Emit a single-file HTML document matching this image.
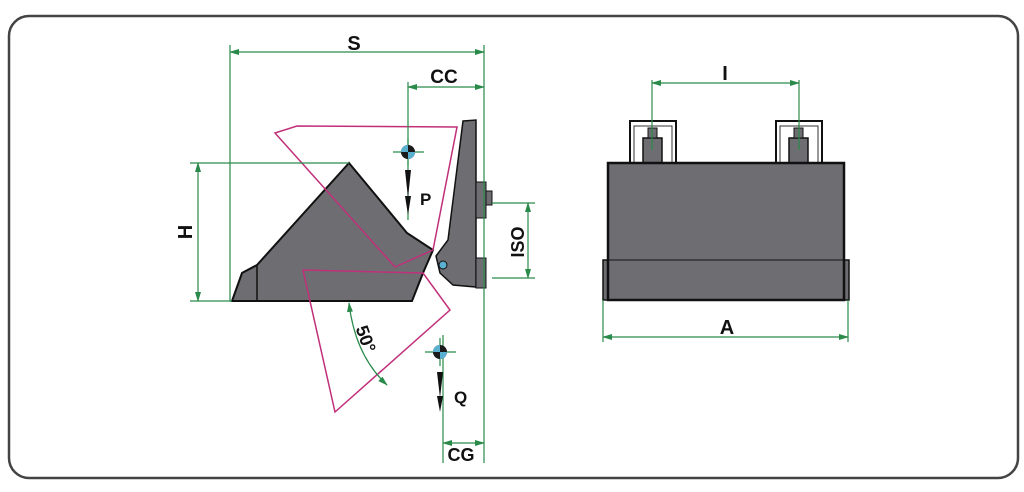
<!DOCTYPE html>
<html><head><meta charset="utf-8"><style>
html,body{margin:0;padding:0;background:#fff;}
svg{display:block;}
text{font-family:"Liberation Sans",sans-serif;font-weight:bold;fill:#111;}
</style></head><body>
<svg width="1024" height="492" viewBox="0 0 1024 492" xmlns="http://www.w3.org/2000/svg">
<defs>
<marker id="ar" markerWidth="10" markerHeight="6" refX="9" refY="3" orient="auto" markerUnits="userSpaceOnUse"><path d="M0,0 L10,3 L0,6 Z" fill="#2a8a4a"/></marker>
<marker id="al" markerWidth="10" markerHeight="6" refX="1" refY="3" orient="auto" markerUnits="userSpaceOnUse"><path d="M10,0 L0,3 L10,6 Z" fill="#2a8a4a"/></marker>
</defs>
<rect x="9" y="16" width="1009" height="462" rx="20" fill="none" stroke="#444" stroke-width="2.5"/>

<!-- bucket -->
<polygon points="232,301 242,273 257,265 349,163 407,233 433,250 423,273 412,301" fill="#6e6e72" stroke="#111" stroke-width="2"/>
<line x1="257" y1="265" x2="257" y2="301" stroke="#111" stroke-width="1.5"/>
<!-- back plate -->
<polygon points="463,121 476,120 476,287 453,285 440,273 436,256 448,240" fill="#6e6e72" stroke="#111" stroke-width="1.5"/>
<rect x="476" y="182" width="10" height="36" fill="#6e6e72" stroke="#111" stroke-width="1"/>
<rect x="486" y="191" width="6" height="14" fill="#6e6e72" stroke="#111" stroke-width="1"/>
<rect x="476" y="258" width="10" height="30" fill="#6e6e72" stroke="#111" stroke-width="1"/>
<circle cx="443" cy="265" r="4" fill="#5ab0d0" stroke="#111"/>
<!-- pink outlines on top -->
<g fill="none" stroke="#c0307a" stroke-width="1.5">
<polygon points="275,133 297,126 457,127 433,250 395,267"/>
<polygon points="303,270 423,273 450,310 335,412"/>
</g>
<!-- dimensions -->
<g stroke="#2a8a4a" stroke-width="1.2" fill="none">
<line x1="230" y1="45" x2="230" y2="301"/>
<line x1="484" y1="45" x2="484" y2="463"/>
<line x1="230" y1="52" x2="484" y2="52" marker-start="url(#al)" marker-end="url(#ar)"/>
<line x1="408" y1="82" x2="408" y2="220"/>
<line x1="408" y1="87" x2="484" y2="87" marker-start="url(#al)" marker-end="url(#ar)"/>
<line x1="190" y1="163" x2="349" y2="163"/>
<line x1="190" y1="301" x2="232" y2="301"/>
<line x1="198" y1="163" x2="198" y2="301" marker-start="url(#al)" marker-end="url(#ar)"/>
<line x1="492" y1="203" x2="535" y2="203"/>
<line x1="492" y1="278" x2="535" y2="278"/>
<line x1="528" y1="203" x2="528" y2="278" marker-start="url(#al)" marker-end="url(#ar)"/>
<line x1="443" y1="335" x2="443" y2="463"/>
<line x1="443" y1="443" x2="484" y2="443" marker-start="url(#al)" marker-end="url(#ar)"/>
<path d="M349,303 Q355,355 387,385" marker-start="url(#al)" marker-end="url(#ar)"/>
<line x1="393" y1="152" x2="424" y2="152"/><line x1="408" y1="138" x2="408" y2="166"/>
<line x1="425" y1="352" x2="456" y2="352"/><line x1="440" y1="338" x2="440" y2="366"/>
</g>
<!-- CG markers -->
<circle cx="408" cy="152" r="7" fill="#1a1a1a"/><path d="M408,145 A7,7 0 0 0 401,152 L408,152Z M408,159 A7,7 0 0 0 415,152 L408,152Z" fill="#5ab0d0"/>
<circle cx="440" cy="352" r="7" fill="#1a1a1a"/><path d="M440,345 A7,7 0 0 0 433,352 L440,352Z M440,359 A7,7 0 0 0 447,352 L440,352Z" fill="#5ab0d0"/>
<path d="M405,170 L411,170 L408,198Z M405,196 L411,196 L408,215Z" fill="#111"/>
<path d="M437,372 L443,372 L440,398Z M437,396 L443,396 L440,412Z" fill="#111"/>
<text x="354" y="50" font-size="20" text-anchor="middle">S</text>
<text x="444" y="83" font-size="19" text-anchor="middle">CC</text>
<text x="420" y="205" font-size="17">P</text>
<text x="454" y="403" font-size="17">Q</text>
<text x="461" y="461" font-size="18" text-anchor="middle">CG</text>
<text transform="translate(192,232) rotate(-90)" font-size="20" text-anchor="middle">H</text>
<text transform="translate(524,242) rotate(-90)" font-size="18" text-anchor="middle">ISO</text>
<text transform="translate(360,341) rotate(70)" font-size="18" text-anchor="middle">50°</text>

<!-- right view -->
<g stroke="#111" stroke-width="1.5">
<rect x="630" y="121" width="46" height="42" fill="none" stroke-width="2"/>
<rect x="634" y="126" width="38" height="37" fill="none" stroke="#333" stroke-width="1"/>
<rect x="776" y="121" width="46" height="42" fill="none" stroke-width="2"/>
<rect x="780" y="126" width="38" height="37" fill="none" stroke="#333" stroke-width="1"/>
<rect x="643" y="138" width="19" height="25" fill="#6e6e72"/>
<rect x="789" y="138" width="19" height="25" fill="#6e6e72"/>
<rect x="648" y="128" width="9" height="10" fill="#6e6e72" stroke-width="1"/>
<rect x="794" y="128" width="9" height="10" fill="#6e6e72" stroke-width="1"/>
<rect x="603" y="260" width="6" height="40" fill="#6e6e72"/>
<rect x="843" y="260" width="6" height="40" fill="#6e6e72"/>
<rect x="608" y="163" width="236" height="137" fill="#6e6e72" stroke-width="2.5"/>
<line x1="608" y1="260" x2="844" y2="260" stroke-width="1"/>
</g>
<g stroke="#2a8a4a" stroke-width="1.2" fill="none">
<line x1="652" y1="80" x2="652" y2="150"/>
<line x1="799" y1="80" x2="799" y2="150"/>
<line x1="652" y1="83" x2="799" y2="83" marker-start="url(#al)" marker-end="url(#ar)"/>
<line x1="603" y1="300" x2="603" y2="342"/>
<line x1="848" y1="300" x2="848" y2="342"/>
<line x1="603" y1="337" x2="848" y2="337" marker-start="url(#al)" marker-end="url(#ar)"/>
</g>
<text x="725" y="80" font-size="20" text-anchor="middle">I</text>
<text x="727" y="334" font-size="20" text-anchor="middle">A</text>
</svg>
</body></html>
